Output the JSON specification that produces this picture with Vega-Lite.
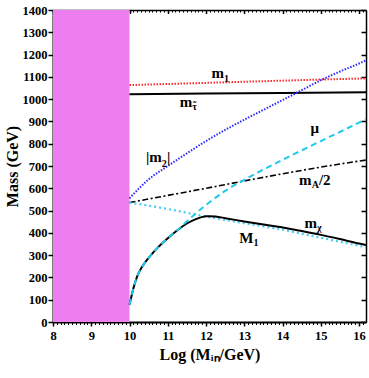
{
  "$schema": "https://vega.github.io/schema/vega-lite/v6.json",
  "width": 313,
  "height": 312,
  "autosize": {"type": "none"},
  "padding": {"left": 53, "top": 10, "right": 3, "bottom": 56},
  "background": "white",
  "config": {
    "view": {"stroke": null},
    "font": "Liberation Serif",
    "axis": {"zindex": 1, "grid": false, "labelFont": "Liberation Serif", "labelFontWeight": "bold", "labelFontSize": 12.5, "labelColor": "black", "titleFont": "Liberation Serif", "titleFontWeight": "bold", "titleFontSize": 16, "titleColor": "black", "domainColor": "black", "tickColor": "black"}
  },
  "datasets": {
    "region": [{"x0": 8, "x1": 10}],
    "curves": [
      {"series": "m1", "x": 10, "v": 1063}, {"series": "m1", "x": 11, "v": 1068}, {"series": "m1", "x": 12, "v": 1073}, {"series": "m1", "x": 13, "v": 1078}, {"series": "m1", "x": 14, "v": 1083}, {"series": "m1", "x": 15, "v": 1088}, {"series": "m1", "x": 16.2, "v": 1093},
      {"series": "mtau", "x": 10, "v": 1022}, {"series": "mtau", "x": 12, "v": 1025}, {"series": "mtau", "x": 14, "v": 1028}, {"series": "mtau", "x": 16.2, "v": 1031},
      {"series": "m2", "x": 10, "v": 555}, {"series": "m2", "x": 10.5, "v": 640}, {"series": "m2", "x": 11, "v": 700}, {"series": "m2", "x": 11.5, "v": 757}, {"series": "m2", "x": 12, "v": 812}, {"series": "m2", "x": 12.5, "v": 862}, {"series": "m2", "x": 13, "v": 908}, {"series": "m2", "x": 13.5, "v": 952}, {"series": "m2", "x": 14, "v": 996}, {"series": "m2", "x": 14.5, "v": 1040}, {"series": "m2", "x": 15, "v": 1085}, {"series": "m2", "x": 15.5, "v": 1124}, {"series": "m2", "x": 16, "v": 1160}, {"series": "m2", "x": 16.2, "v": 1176},
      {"series": "mA2", "x": 10, "v": 536}, {"series": "mA2", "x": 11, "v": 568}, {"series": "mA2", "x": 12, "v": 600}, {"series": "mA2", "x": 13, "v": 633}, {"series": "mA2", "x": 14, "v": 665}, {"series": "mA2", "x": 15, "v": 695}, {"series": "mA2", "x": 16, "v": 722}, {"series": "mA2", "x": 16.2, "v": 727},
      {"series": "M1", "x": 10, "v": 536}, {"series": "M1", "x": 10.5, "v": 522}, {"series": "M1", "x": 11, "v": 507}, {"series": "M1", "x": 11.5, "v": 490}, {"series": "M1", "x": 12, "v": 473}, {"series": "M1", "x": 12.5, "v": 458}, {"series": "M1", "x": 13, "v": 443}, {"series": "M1", "x": 13.5, "v": 429}, {"series": "M1", "x": 14, "v": 414}, {"series": "M1", "x": 14.5, "v": 396}, {"series": "M1", "x": 15, "v": 378}, {"series": "M1", "x": 15.5, "v": 360}, {"series": "M1", "x": 16, "v": 342}, {"series": "M1", "x": 16.2, "v": 334},
      {"series": "mchi", "x": 10, "v": 78}, {"series": "mchi", "x": 10.05, "v": 115}, {"series": "mchi", "x": 10.1, "v": 150}, {"series": "mchi", "x": 10.2, "v": 205}, {"series": "mchi", "x": 10.3, "v": 240}, {"series": "mchi", "x": 10.4, "v": 266}, {"series": "mchi", "x": 10.5, "v": 288}, {"series": "mchi", "x": 10.75, "v": 336}, {"series": "mchi", "x": 11, "v": 376}, {"series": "mchi", "x": 11.25, "v": 412}, {"series": "mchi", "x": 11.5, "v": 442}, {"series": "mchi", "x": 11.75, "v": 463}, {"series": "mchi", "x": 12, "v": 474}, {"series": "mchi", "x": 12.1, "v": 475}, {"series": "mchi", "x": 12.25, "v": 473}, {"series": "mchi", "x": 12.5, "v": 466}, {"series": "mchi", "x": 13, "v": 451}, {"series": "mchi", "x": 13.5, "v": 437}, {"series": "mchi", "x": 14, "v": 424}, {"series": "mchi", "x": 14.5, "v": 408}, {"series": "mchi", "x": 15, "v": 391}, {"series": "mchi", "x": 15.5, "v": 372}, {"series": "mchi", "x": 16, "v": 352}, {"series": "mchi", "x": 16.2, "v": 345},
      {"series": "mu", "x": 10, "v": 78}, {"series": "mu", "x": 10.05, "v": 115}, {"series": "mu", "x": 10.1, "v": 150}, {"series": "mu", "x": 10.2, "v": 205}, {"series": "mu", "x": 10.3, "v": 240}, {"series": "mu", "x": 10.4, "v": 266}, {"series": "mu", "x": 10.5, "v": 288}, {"series": "mu", "x": 10.75, "v": 336}, {"series": "mu", "x": 11, "v": 376}, {"series": "mu", "x": 11.25, "v": 412}, {"series": "mu", "x": 11.5, "v": 452}, {"series": "mu", "x": 11.75, "v": 490}, {"series": "mu", "x": 12, "v": 525}, {"series": "mu", "x": 12.5, "v": 588}, {"series": "mu", "x": 13, "v": 638}, {"series": "mu", "x": 13.5, "v": 684}, {"series": "mu", "x": 14, "v": 728}, {"series": "mu", "x": 14.5, "v": 770}, {"series": "mu", "x": 15, "v": 812}, {"series": "mu", "x": 15.5, "v": 853}, {"series": "mu", "x": 16, "v": 895}, {"series": "mu", "x": 16.2, "v": 911}
    ],
    "labels": [
      {"text": "m", "part": "main", "x": 12.14, "v": 1097},
      {"text": "1", "part": "sub", "x": 12.47, "v": 1077},
      {"text": "m", "part": "main", "x": 11.31, "v": 965},
      {"text": "τ", "part": "sub", "x": 11.64, "v": 951},
      {"text": "˜", "part": "sub", "x": 11.66, "v": 955},
      {"text": "|m", "part": "main", "x": 10.43, "v": 718},
      {"text": "2", "part": "sub", "x": 10.84, "v": 697},
      {"text": "|", "part": "main", "x": 10.98, "v": 718},
      {"text": "μ", "part": "main", "x": 14.73, "v": 850},
      {"text": "m", "part": "main", "x": 14.43, "v": 616},
      {"text": "A", "part": "sub", "x": 14.76, "v": 603},
      {"text": "/2", "part": "main", "x": 14.95, "v": 616},
      {"text": "m", "part": "main", "x": 14.57, "v": 423},
      {"text": "χ", "part": "sub", "x": 14.9, "v": 410},
      {"text": "M", "part": "main", "x": 12.87, "v": 355},
      {"text": "1", "part": "sub", "x": 13.24, "v": 339}
    ]
  },
  "resolve": {"axis": {"x": "independent", "y": "independent"}},
  "layer": [
    {
      "data": {"name": "region"},
      "mark": {"type": "rect", "color": "#ec7ef0"},
      "encoding": {
        "x": {"field": "x0", "type": "quantitative", "scale": {"domain": [8, 16.18], "nice": false, "zero": false},
              "axis": {"orient": "bottom", "values": [8, 9, 10, 11, 12, 13, 14, 15, 16], "tickSize": 4, "tickWidth": 1.5, "domainWidth": 2, "labelPadding": 3, "labelFlush": false, "title": "Log (Mᵢₙ/GeV)", "titlePadding": 5}},
        "x2": {"field": "x1"},
        "y": {"datum": 0, "type": "quantitative", "scale": {"domain": [0, 1400], "nice": false, "zero": false},
              "axis": {"orient": "left", "format": "d", "values": [0, 100, 200, 300, 400, 500, 600, 700, 800, 900, 1000, 1100, 1200, 1300, 1400], "tickSize": 5, "tickWidth": 1.5, "domainWidth": 2, "labelPadding": 1, "labelFlush": false, "title": "Mass (GeV)", "titlePadding": 2}},
        "y2": {"datum": 1400}
      }
    },
    {
      "data": {"name": "curves"},
      "transform": [{"filter": "datum.series === 'm1'"}],
      "mark": {"type": "line", "color": "#ff2a2a", "strokeWidth": 2, "strokeDash": [1.5, 1.5], "clip": true},
      "encoding": {
        "x": {"field": "x", "type": "quantitative",
              "axis": {"orient": "bottom", "values": [8.1,8.2,8.3,8.4,8.5,8.6,8.7,8.8,8.9,9.1,9.2,9.3,9.4,9.5,9.6,9.7,9.8,9.9,10.1,10.2,10.3,10.4,10.5,10.6,10.7,10.8,10.9,11.1,11.2,11.3,11.4,11.5,11.6,11.7,11.8,11.9,12.1,12.2,12.3,12.4,12.5,12.6,12.7,12.8,12.9,13.1,13.2,13.3,13.4,13.5,13.6,13.7,13.8,13.9,14.1,14.2,14.3,14.4,14.5,14.6,14.7,14.8,14.9,15.1,15.2,15.3,15.4,15.5,15.6,15.7,15.8,15.9,16.1], "tickSize": 2.5, "tickWidth": 1, "domain": false, "labels": false, "title": null}},
        "y": {"field": "v", "type": "quantitative",
              "axis": {"orient": "left", "offset": -313, "values": [0, 100, 200, 300, 400, 500, 600, 700, 800, 900, 1000, 1100, 1200, 1300, 1400], "tickSize": 5, "tickWidth": 1.5, "domainWidth": 1.5, "labels": false, "title": null}}
      }
    },
    {
      "data": {"name": "curves"},
      "transform": [{"filter": "datum.series === 'mtau'"}],
      "mark": {"type": "line", "color": "black", "strokeWidth": 2, "clip": true},
      "encoding": {
        "x": {"field": "x", "type": "quantitative",
              "axis": {"orient": "bottom", "offset": -312, "values": [8, 9, 10, 11, 12, 13, 14, 15, 16], "tickSize": 3.5, "tickWidth": 1.5, "domain": false, "labels": false, "title": null}},
        "y": {"field": "v", "type": "quantitative", "axis": null}
      }
    },
    {
      "data": {"name": "curves"},
      "transform": [{"filter": "datum.series === 'm2'"}],
      "mark": {"type": "line", "color": "#2b2bff", "strokeWidth": 2, "strokeDash": [1.5, 1.5], "interpolate": "monotone", "clip": true},
      "encoding": {
        "x": {"field": "x", "type": "quantitative",
              "axis": {"orient": "bottom", "offset": -312, "values": [8.1,8.2,8.3,8.4,8.5,8.6,8.7,8.8,8.9,9.1,9.2,9.3,9.4,9.5,9.6,9.7,9.8,9.9,10.1,10.2,10.3,10.4,10.5,10.6,10.7,10.8,10.9,11.1,11.2,11.3,11.4,11.5,11.6,11.7,11.8,11.9,12.1,12.2,12.3,12.4,12.5,12.6,12.7,12.8,12.9,13.1,13.2,13.3,13.4,13.5,13.6,13.7,13.8,13.9,14.1,14.2,14.3,14.4,14.5,14.6,14.7,14.8,14.9,15.1,15.2,15.3,15.4,15.5,15.6,15.7,15.8,15.9,16.1], "tickSize": 2, "tickWidth": 1, "domain": false, "labels": false, "title": null}},
        "y": {"field": "v", "type": "quantitative", "axis": null}
      }
    },
    {
      "data": {"name": "curves"},
      "transform": [{"filter": "datum.series === 'mA2'"}],
      "mark": {"type": "line", "color": "black", "strokeWidth": 1.6, "strokeDash": [6, 2.5, 2, 2.5], "interpolate": "monotone", "clip": true},
      "encoding": {
        "x": {"field": "x", "type": "quantitative",
              "axis": {"orient": "top", "ticks": false, "labels": false, "domainWidth": 1.5, "title": null}},
        "y": {"field": "v", "type": "quantitative", "axis": null}
      }
    },
    {
      "data": {"name": "curves"},
      "transform": [{"filter": "datum.series === 'M1'"}],
      "mark": {"type": "line", "color": "#45cdf5", "strokeWidth": 2.2, "strokeDash": [2, 3], "interpolate": "monotone", "clip": true},
      "encoding": {
        "x": {"field": "x", "type": "quantitative", "axis": null},
        "y": {"field": "v", "type": "quantitative", "axis": null}
      }
    },
    {
      "data": {"name": "curves"},
      "transform": [{"filter": "datum.series === 'mchi'"}],
      "mark": {"type": "line", "color": "black", "strokeWidth": 2, "interpolate": "monotone", "clip": true},
      "encoding": {
        "x": {"field": "x", "type": "quantitative", "axis": null},
        "y": {"field": "v", "type": "quantitative", "axis": null}
      }
    },
    {
      "data": {"name": "curves"},
      "transform": [{"filter": "datum.series === 'mu'"}],
      "mark": {"type": "line", "color": "#1ec8ef", "strokeWidth": 2, "strokeDash": [6, 4], "interpolate": "monotone", "clip": true},
      "encoding": {
        "x": {"field": "x", "type": "quantitative", "axis": null},
        "y": {"field": "v", "type": "quantitative", "axis": null}
      }
    },
    {
      "data": {"name": "labels"},
      "transform": [{"filter": "datum.part === 'main'"}],
      "mark": {"type": "text", "align": "left", "baseline": "alphabetic", "font": "Liberation Serif", "fontWeight": "bold", "fontSize": 15, "color": "black"},
      "encoding": {
        "x": {"field": "x", "type": "quantitative", "axis": null},
        "y": {"field": "v", "type": "quantitative", "axis": null},
        "text": {"field": "text"}
      }
    },
    {
      "data": {"name": "labels"},
      "transform": [{"filter": "datum.part === 'sub'"}],
      "mark": {"type": "text", "align": "left", "baseline": "alphabetic", "font": "Liberation Serif", "fontWeight": "bold", "fontSize": 10, "color": "black"},
      "encoding": {
        "x": {"field": "x", "type": "quantitative", "axis": null},
        "y": {"field": "v", "type": "quantitative", "axis": null},
        "text": {"field": "text"}
      }
    }
  ]
}
